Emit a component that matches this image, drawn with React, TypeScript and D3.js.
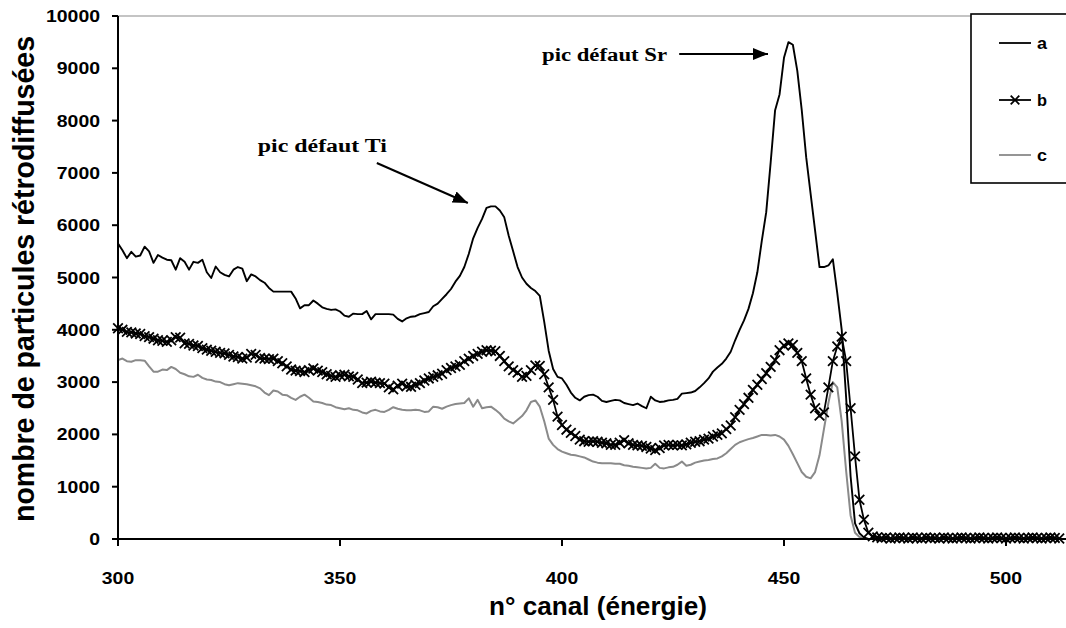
import React from 'react';
import * as d3 from 'd3';

const CH_START = 300;

const seriesA = [
  5650,5520,5370,5490,5400,5420,5590,5500,5280,5430,
  5380,5340,5330,5150,5370,5300,5150,5300,5280,5340,
  5100,4990,5210,5100,5050,5020,5150,5200,5170,4930,
  5060,5020,4950,4900,4800,4730,4730,4730,4730,4730,
  4600,4410,4470,4470,4560,4500,4430,4400,4380,4390,
  4350,4270,4250,4310,4300,4300,4360,4200,4300,4300,
  4300,4300,4290,4210,4160,4220,4250,4260,4300,4320,
  4340,4450,4500,4590,4680,4780,4920,5030,5200,5450,
  5750,5950,6120,6330,6360,6360,6280,6150,5800,5500,
  5200,5000,4880,4800,4740,4650,4150,3600,3250,3100,
  3070,2950,2800,2700,2650,2720,2750,2760,2720,2640,
  2620,2640,2660,2650,2600,2580,2560,2590,2540,2500,
  2720,2650,2620,2630,2650,2660,2680,2780,2790,2800,
  2830,2900,2980,3070,3200,3280,3350,3450,3580,3800,
  4000,4180,4400,4700,5100,5700,6250,7200,8200,8500,
  9200,9500,9450,8950,8200,7300,6600,5900,5200,5200,
  5230,5350,4700,4000,2700,1200,300,110,30,0,
  0,0,0,0,0,0,0,0,0,0,
  0,0,0,0,0,0,0,0,0,0,
  0,0,0,0,0,0,0,0,0,0,
  0,0,0,0,0,0,0,0,0,0,
  0,0,0,
];

const seriesB = [
  4030,4000,3960,3950,3930,3920,3880,3860,3830,3800,
  3790,3770,3800,3860,3850,3740,3730,3700,3690,3650,
  3620,3600,3580,3560,3550,3520,3490,3480,3450,3470,
  3540,3520,3460,3450,3440,3450,3400,3360,3300,3240,
  3220,3210,3190,3230,3260,3220,3190,3150,3120,3100,
  3130,3140,3110,3100,3050,2980,2990,3010,2990,2980,
  2970,2900,2860,2930,2970,2920,2910,2950,2980,3030,
  3070,3100,3130,3160,3230,3270,3300,3330,3400,3450,
  3500,3540,3580,3610,3600,3590,3500,3400,3300,3230,
  3180,3100,3120,3230,3320,3310,3150,2900,2660,2340,
  2180,2090,2030,1970,1900,1870,1860,1870,1860,1840,
  1830,1800,1800,1840,1890,1830,1800,1790,1780,1760,
  1730,1700,1740,1790,1800,1790,1800,1790,1810,1840,
  1860,1870,1900,1920,1960,1990,2020,2100,2170,2330,
  2470,2580,2700,2850,2950,3060,3170,3290,3420,3610,
  3700,3740,3710,3560,3400,3070,2760,2500,2360,2420,
  2900,3400,3680,3870,3400,2500,1580,750,370,120,
  50,30,20,30,10,20,30,20,10,30,
  20,10,30,20,20,10,30,20,10,20,
  30,20,10,20,30,20,10,20,30,20,
  10,20,30,20,10,20,30,20,10,20,
  30,20,10,
];

const seriesC = [
  3420,3450,3400,3390,3420,3420,3410,3300,3200,3200,
  3240,3230,3290,3250,3180,3150,3110,3100,3140,3080,
  3050,3040,3010,3000,2960,2940,2960,2980,2970,2960,
  2940,2920,2880,2800,2750,2840,2820,2760,2750,2700,
  2660,2720,2760,2700,2630,2620,2600,2570,2560,2520,
  2500,2480,2500,2470,2460,2420,2400,2450,2470,2440,
  2430,2470,2520,2490,2470,2460,2460,2470,2460,2430,
  2440,2530,2520,2490,2530,2560,2580,2590,2600,2690,
  2530,2660,2500,2520,2530,2470,2400,2300,2250,2210,
  2280,2350,2460,2620,2650,2530,2250,1920,1800,1720,
  1670,1640,1610,1600,1580,1560,1520,1480,1460,1450,
  1450,1450,1440,1440,1410,1400,1380,1370,1360,1350,
  1360,1440,1360,1350,1370,1380,1420,1480,1400,1420,
  1460,1480,1500,1510,1530,1540,1580,1640,1720,1800,
  1850,1880,1910,1930,1960,1990,1990,1980,1990,1960,
  1900,1780,1620,1450,1280,1190,1160,1280,1600,2100,
  2600,3000,2900,2250,1300,450,120,40,0,0,
  0,0,0,0,0,0,0,0,0,0,
  0,0,0,0,0,0,0,0,0,0,
  0,0,0,0,0,0,0,0,0,0,
  0,0,0,0,0,0,0,0,0,0,
  0,0,0,
];

const channels = seriesA.map((_, i) => CH_START + i);
const xTicks = [300, 350, 400, 450, 500];
const yTicks = [0, 1000, 2000, 3000, 4000, 5000, 6000, 7000, 8000, 9000, 10000];
const legendLabels = ['a', 'b', 'c'];

// annotations in data units
const annTi = { text: 'pic défaut Ti', tx: 331.5, ty: 7400, x1: 358.3, y1: 7190, x2: 378.8, y2: 6425 };
const annSr = { text: 'pic défaut Sr', tx: 395.5, ty: 9140, x1: 426.4, y1: 9273, x2: 446.4, y2: 9273 };

const SANS = '"Liberation Sans", Arial, sans-serif';
const SERIF = '"Liberation Serif", "Times New Roman", serif';
const GREY = '#8a8a8a';

export default function App() {
  const W = 1066, H = 628;
  const x = d3.scaleLinear().domain([300, 513]).range([118, 1063.7]);
  const y = d3.scaleLinear().domain([0, 10000]).range([539, 16]);
  const lineGen = d3.line<number>().x((_, i) => x(channels[i])).y((v) => y(v));

  const cross = (cx: number, cy: number, s: number, key: any) => (
    <path key={key} d={`M${cx - s},${cy - s}L${cx + s},${cy + s}M${cx - s},${cy + s}L${cx + s},${cy - s}`}
      stroke="#000" strokeWidth={1.8} fill="none" />
  );

  return (
    <svg width={W} height={H} style={{ position: 'absolute', left: 0, top: 0, background: '#fff' }}>
      <defs>
        <marker id="arrow" markerUnits="userSpaceOnUse" markerWidth={16} markerHeight={12}
          refX={15} refY={6} orient="auto">
          <path d="M0,0L15,6L0,12Z" fill="#000" />
        </marker>
      </defs>
      <rect x={0} y={0} width={W} height={H} fill="#fff" />
      {/* top border of plot area */}
      <line x1={118} x2={W} y1={16} y2={16} stroke={GREY} strokeWidth={1.2} />

      {/* series */}
      <path d={lineGen(seriesC) || ''} fill="none" stroke={GREY} strokeWidth={2} strokeLinejoin="round" />
      <path d={lineGen(seriesA) || ''} fill="none" stroke="#000" strokeWidth={1.9} strokeLinejoin="round" />
      <path d={lineGen(seriesB) || ''} fill="none" stroke="#000" strokeWidth={1.8} strokeLinejoin="round" />
      <g>
        {seriesB.map((v, i) => cross(x(channels[i]), y(v), 4.8, i))}
      </g>

      {/* axes */}
      <line x1={118} x2={118} y1={16} y2={540} stroke="#000" strokeWidth={2} />
      <line x1={117} x2={W} y1={539} y2={539} stroke="#000" strokeWidth={2} />
      {yTicks.map((t) => (
        <g key={'y' + t}>
          <line x1={112} x2={118} y1={y(t)} y2={y(t)} stroke="#000" strokeWidth={2} />
          <text x={100} y={y(t) + 6} textAnchor="end" fontFamily={SANS} fontWeight="bold" fontSize={16.5}
            textLength={String(t).length * 10.8} lengthAdjust="spacingAndGlyphs">{t}</text>
        </g>
      ))}
      {xTicks.map((t) => (
        <g key={'x' + t}>
          <line x1={x(t)} x2={x(t)} y1={539} y2={546} stroke="#000" strokeWidth={2} />
          <text x={x(t)} y={584} textAnchor="middle" fontFamily={SANS} fontWeight="bold" fontSize={16.5}
            textLength={String(t).length * 10.8} lengthAdjust="spacingAndGlyphs">{t}</text>
        </g>
      ))}

      {/* axis titles */}
      <text x={598} y={615} textAnchor="middle" fontFamily={SANS} fontWeight="bold" fontSize={25}
        textLength={218} lengthAdjust="spacingAndGlyphs">n° canal (énergie)</text>
      <text transform="translate(34,279) scale(1.15,1) rotate(-90)" textAnchor="middle" fontFamily={SANS}
        fontWeight="bold" fontSize={26} textLength={486} lengthAdjust="spacingAndGlyphs">nombre de particules rétrodiffusées</text>

      {/* annotations */}
      {[annTi, annSr].map((a, i) => (
        <g key={'ann' + i}>
          <text x={x(a.tx)} y={y(a.ty)} fontFamily={SERIF} fontWeight="bold" fontSize={18}
            textLength={i === 0 ? 129 : 125} lengthAdjust="spacingAndGlyphs">{a.text}</text>
          <line x1={x(a.x1)} y1={y(a.y1)} x2={x(a.x2)} y2={y(a.y2)} stroke="#000" strokeWidth={2}
            markerEnd="url(#arrow)" />
        </g>
      ))}

      {/* legend */}
      <rect x={971} y={14} width={120} height={169} fill="#fff" stroke="#000" strokeWidth={1.6} />
      {legendLabels.map((lab, i) => {
        const ly = [43, 100, 155][i];
        return (
          <g key={lab}>
            <line x1={999} x2={1031} y1={ly} y2={ly} stroke={i === 2 ? GREY : '#000'} strokeWidth={1.8} />
            {i === 1 && cross(1015, ly, 4.3, 'lm')}
            <text x={1037} y={ly + 5.5} fontFamily={SANS} fontWeight="bold" fontSize={16.5}
              textLength={10} lengthAdjust="spacingAndGlyphs">{lab}</text>
          </g>
        );
      })}
    </svg>
  );
}
